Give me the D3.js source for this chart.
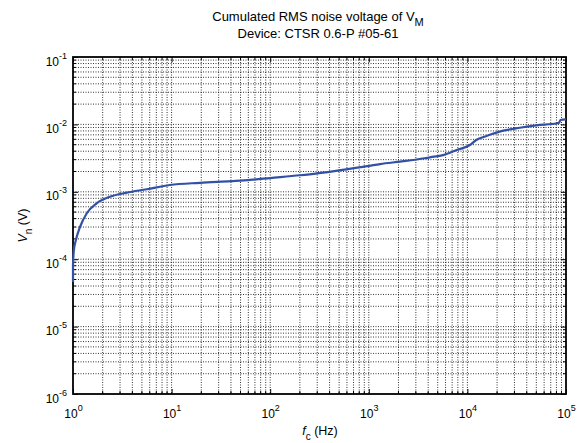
<!DOCTYPE html>
<html>
<head>
<meta charset="utf-8">
<script src="https://cdn.jsdelivr.net/npm/d3@7"></script>
<style>
html,body{margin:0;padding:0;background:#fff;}
svg{display:block;font-family:"Liberation Sans",Arial,sans-serif;}
</style>
</head>
<body>
<svg id="chart" width="587" height="443"></svg>
<script>
// ---- data ----
const titleText = "Cumulated RMS noise voltage of V";
const titleSub = "M";
const subtitleText = "Device: CTSR 0.6-P #05-61";
const xDomain = [1, 1e5];
const yDomain = [1e-6, 1e-1];
const xTickExps = [0, 1, 2, 3, 4, 5];
const yTickExps = [-6, -5, -4, -3, -2, -1];
const freq = [1, 1.0, 1.02, 1.07, 1.18, 1.38, 1.74, 2.37, 3.5, 5.6, 9.6, 19.4, 40, 62.7, 100, 200, 300, 500, 1000, 1300, 2080, 2820, 4170, 5680, 7800, 10600, 12300, 15600, 23100, 34000, 50000, 81000, 85000, 88000, 100000];
const vn   = [4.6e-5, 8e-5, 1.35e-4, 1.93e-4, 3.03e-4, 4.8e-4, 6.75e-4, 8.45e-4, 9.7e-4, 1.09e-3, 1.26e-3, 1.36e-3, 1.44e-3, 1.5e-3, 1.6e-3, 1.76e-3, 1.88e-3, 2.08e-3, 2.42e-3, 2.58e-3, 2.8e-3, 2.96e-3, 3.25e-3, 3.5e-3, 4.17e-3, 4.94e-3, 5.87e-3, 6.73e-3, 8.07e-3, 8.93e-3, 9.7e-3, 1.04e-2, 1.06e-2, 1.16e-2, 1.19e-2];

// ---- layout ----
const L = 73, R = 566, T = 57, B = 394;
const svg = d3.select("#chart");
const x = d3.scaleLog().domain(xDomain).range([L, R]);
const y = d3.scaleLog().domain(yDomain).range([B, T]);

// grid (all ticks 1..9 per decade)
const xAll = x.ticks();
const yAll = y.ticks();
const grid = svg.append("g").attr("stroke", "#000").attr("stroke-width", 0.8)
  .attr("stroke-dasharray", "1,1.5");
grid.selectAll("line.gx").data(xAll.filter(d => d > xDomain[0] && d < xDomain[1]))
  .join("line").attr("x1", d => x(d)).attr("x2", d => x(d)).attr("y1", T).attr("y2", B);
grid.selectAll("line.gy").data(yAll.filter(d => d > yDomain[0] && d < yDomain[1]))
  .join("line").attr("class","gy").attr("y1", d => y(d)).attr("y2", d => y(d)).attr("x1", L).attr("x2", R);

// minor ticks (inside, all four sides)
const tk = svg.append("g").attr("stroke", "#000").attr("stroke-width", 1);
const xMinor = xAll.filter(d => Math.abs(Math.log10(d) - Math.round(Math.log10(d))) > 1e-9);
const yMinor = yAll.filter(d => Math.abs(Math.log10(d) - Math.round(Math.log10(d))) > 1e-9);
xMinor.forEach(d => {
  tk.append("line").attr("x1", x(d)).attr("x2", x(d)).attr("y1", B).attr("y2", B - 3);
  tk.append("line").attr("x1", x(d)).attr("x2", x(d)).attr("y1", T).attr("y2", T + 3);
});
yMinor.forEach(d => {
  tk.append("line").attr("y1", y(d)).attr("y2", y(d)).attr("x1", L).attr("x2", L + 3);
  tk.append("line").attr("y1", y(d)).attr("y2", y(d)).attr("x1", R).attr("x2", R - 3);
});

// major axes
const xMajor = xTickExps.map(e => Math.pow(10, e));
const yMajor = yTickExps.map(e => Math.pow(10, e));
const xAx = svg.append("g").attr("transform", `translate(0,${B})`)
  .call(d3.axisBottom(x).tickValues(xMajor).tickSizeInner(-5).tickSizeOuter(0).tickFormat(""));
const xAxT = svg.append("g").attr("transform", `translate(0,${T})`)
  .call(d3.axisTop(x).tickValues(xMajor).tickSizeInner(-5).tickSizeOuter(0).tickFormat(""));
const yAx = svg.append("g").attr("transform", `translate(${L},0)`)
  .call(d3.axisLeft(y).tickValues(yMajor).tickSizeInner(-5).tickSizeOuter(0).tickFormat(""));
const yAxR = svg.append("g").attr("transform", `translate(${R},0)`)
  .call(d3.axisRight(y).tickValues(yMajor).tickSizeInner(-5).tickSizeOuter(0).tickFormat(""));
[xAx, xAxT, yAx, yAxR].forEach(g => {
  g.select(".domain").remove();
  g.selectAll(".tick line").attr("stroke", "#000").attr("stroke-width", 1);
});

// tick labels
xAx.selectAll(".tick").each(function(d, i) {
  const t = d3.select(this).append("text").attr("fill", "#000").attr("font-size", 12)
    .attr("text-anchor", "middle").attr("y", 24).attr("x", 0);
  t.append("tspan").text("10");
  t.append("tspan").attr("font-size", 9).attr("dy", -7).text(xTickExps[i]);
});
yAx.selectAll(".tick").each(function(d, i) {
  const t = d3.select(this).append("text").attr("fill", "#000").attr("font-size", 12)
    .attr("text-anchor", "end").attr("x", -6).attr("y", 8);
  t.append("tspan").text("10");
  t.append("tspan").attr("font-size", 9).attr("dy", -7).text(yTickExps[i]);
});

// box
svg.append("rect").attr("x", L).attr("y", T).attr("width", R - L).attr("height", B - T)
  .attr("fill", "none").attr("stroke", "#000").attr("stroke-width", 1.8);

// curve
const line = d3.line().x((d, i) => x(freq[i])).y(d => y(d)).curve(d3.curveMonotoneX);
svg.append("path").datum(vn).attr("d", line).attr("fill", "none")
  .attr("stroke", "#3251a6").attr("stroke-width", 2.2).attr("stroke-linejoin", "round");

// titles
const tt = svg.append("text").attr("x", 318).attr("y", 21).attr("text-anchor", "middle")
  .attr("font-size", 13).attr("fill", "#000");
tt.append("tspan").text(titleText);
tt.append("tspan").attr("font-size", 11).attr("dy", 5).text(titleSub);
svg.append("text").attr("x", 318).attr("y", 38).attr("text-anchor", "middle")
  .attr("font-size", 13).attr("fill", "#000").text(subtitleText);

// axis labels
const xl = svg.append("text").attr("x", 320).attr("y", 435).attr("text-anchor", "middle")
  .attr("font-size", 12.5).attr("fill", "#000");
xl.append("tspan").attr("font-style", "italic").text("f");
xl.append("tspan").attr("font-size", 10).attr("dy", 5).text("c");
xl.append("tspan").attr("dy", -5).text(" (Hz)");

const yl = svg.append("text").attr("transform", `translate(27,${(T + B) / 2}) rotate(-90)`)
  .attr("text-anchor", "middle").attr("font-size", 12.5).attr("fill", "#000");
yl.append("tspan").attr("font-style", "italic").text("V");
yl.append("tspan").attr("font-size", 10).attr("dy", 5).text("n");
yl.append("tspan").attr("dy", -5).text(" (V)");
</script>
</body>
</html>
